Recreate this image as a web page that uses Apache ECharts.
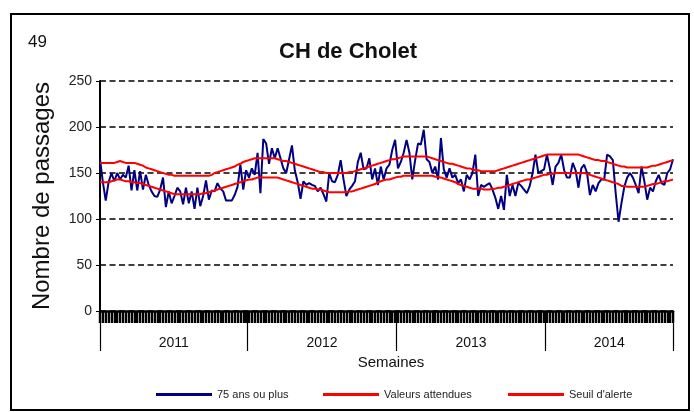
<!DOCTYPE html>
<html><head><meta charset="utf-8">
<script src="https://cdn.jsdelivr.net/npm/echarts@6/dist/echarts.min.js"></script>
<style>html,body{margin:0;padding:0;background:#fff}#c{width:694px;height:412px}</style>
</head><body><div id="c"></div>
<script>
// ---- data ----
const yearLabels = ['2011', '2012', '2013', '2014'];
const weeksPerYear = [52, 52, 52, 45];
const yearBounds = [0, 51.5, 103.5, 155.5, 200];   // week positions of year separators
const yTicks = [0, 50, 100, 150, 200, 250];

const passages75 = [
  165,140,120,140,150,141,150,143,148,145,158,131,153,131,152,132,148,137,130,125,
  124,132,145,113,130,117,125,134,130,116,134,117,130,111,134,114,125,142,121,131,
  130,139,133,130,120,120,120,126,135,159,132,153,
  145,155,148,172,128,187,182,160,177,166,177,166,155,150,165,180,153,140,122,141,
  137,139,137,136,130,134,127,119,150,141,140,148,164,143,125,132,136,141,162,172,
  154,155,166,143,155,137,157,143,155,159,175,186,
  155,162,172,186,172,143,164,182,181,197,165,162,150,157,143,188,154,145,155,145,
  148,139,143,130,148,143,150,170,125,137,135,137,139,132,123,111,125,110,148,125,
  137,125,139,136,132,128,136,150,170,150,152,154,
  170,155,137,157,161,170,153,145,145,161,153,134,155,159,150,126,137,130,139,143,
  143,170,168,164,128,97,117,135,145,150,145,137,128,157,141,121,134,130,141,148,
  139,137,150,154,165
];

const valeursAttendues = [
  140,140,140,140,141,142,143,143,142,141,141,140,140,139,139,138,137,136,135,134,
  133,132,131,130,129,128,127,127,127,127,127,127,127,127,127,127,128,128,129,130,
  131,132,133,134,135,136,137,138,139,140,141,142,
  143,143,144,145,145,145,145,145,145,145,145,144,143,142,141,140,139,138,137,136,
  135,134,133,133,132,132,131,130,129,129,129,129,129,129,129,130,130,131,132,133,
  134,135,136,137,138,140,141,142,143,143,144,145,
  146,146,147,147,147,147,147,147,147,147,147,147,147,146,146,145,144,143,142,141,
  140,138,137,136,135,134,133,133,133,133,132,132,132,133,133,134,134,135,136,137,
  138,139,140,141,142,143,143,144,145,146,147,148,
  148,149,149,150,150,150,150,150,150,150,150,150,150,150,149,148,147,146,145,144,
  143,142,141,140,139,138,136,136,135,135,135,135,135,135,135,136,137,138,138,139,
  140,141,141,142,143
];

const seuilAlerte = [
  161,161,161,161,161,161,162,163,162,161,161,161,161,160,159,158,156,155,154,153,
  152,151,150,149,148,148,147,147,147,147,147,147,147,147,147,147,147,147,147,148,
  150,151,152,153,154,155,156,157,159,160,162,163,
  164,165,166,166,166,166,166,166,166,166,165,164,163,163,162,161,160,159,158,157,
  156,155,154,153,152,151,151,150,150,150,150,150,150,150,150,151,151,152,153,154,
  155,156,157,158,159,160,161,162,163,164,165,165,
  166,167,168,168,168,168,168,168,168,168,168,167,166,165,164,163,162,161,160,160,
  159,158,157,156,155,155,154,153,153,152,152,152,152,152,152,153,154,155,156,157,
  158,159,160,161,162,163,164,165,166,167,168,169,
  170,170,170,170,170,170,170,170,170,170,170,170,169,168,167,166,165,164,164,163,
  163,162,161,160,159,158,157,157,156,156,156,156,156,156,156,156,157,158,158,159,
  160,161,162,163,164
];

// ---- build ----
const weekCategories = [];
yearLabels.forEach((y, i) => {
  for (let w = 1; w <= weeksPerYear[i]; w++) weekCategories.push(y + '-S' + w);
});
const yearMids = yearLabels.map((_, i) => (yearBounds[i] + yearBounds[i + 1]) / 2);

const FONT = '"Liberation Sans", Arial, sans-serif';
const chart = echarts.init(document.getElementById('c'), null, {renderer: 'canvas'});

const legendBase = {
  top: 389, padding: 0, icon: 'rect', itemWidth: 56, itemHeight: 3, itemGap: 5,
  textStyle: {fontSize: 11, color: '#222', fontFamily: FONT}
};

chart.setOption({
  animation: false,
  backgroundColor: '#fff',
  textStyle: {fontFamily: FONT},
  title: {
    text: 'CH de Cholet', left: 279, top: 41, padding: 0,
    textStyle: {fontSize: 22, fontWeight: 'bold', color: '#111', fontFamily: FONT}
  },
  graphic: [
    {type: 'rect', shape: {x: 11, y: 14, width: 678, height: 396},
     style: {fill: 'none', stroke: '#000', lineWidth: 2}, silent: true},
    {type: 'text', x: 28, y: 42,
     style: {text: '49', fontSize: 17, fill: '#111', fontFamily: FONT, verticalAlign: 'middle'}}
  ],
  grid: {left: 100, right: 21, top: 81, bottom: 101},
  legend: [
    Object.assign({}, legendBase, {left: 156, data: ['75 ans ou plus']}),
    Object.assign({}, legendBase, {left: 323, data: ['Valeurs attendues']}),
    Object.assign({}, legendBase, {left: 508, data: ["Seuil d'alerte"]})
  ],
  xAxis: [
    {
      type: 'category', data: weekCategories, boundaryGap: false,
      axisLine: {lineStyle: {color: '#000', width: 2.5}},
      axisTick: {show: true, interval: 0, length: 12, lineStyle: {color: '#000', width: 2.4}},
      axisLabel: {show: false},
      splitLine: {show: false}
    },
    {
      type: 'value', min: yearBounds[0], max: yearBounds[yearBounds.length - 1], position: 'bottom',
      axisLine: {show: false},
      axisTick: {show: true, customValues: yearBounds, length: 40, lineStyle: {color: '#000', width: 1.2}},
      axisLabel: {
        customValues: yearMids, margin: 25, fontSize: 14, color: '#111',
        formatter: v => {
          let best = 0;
          yearMids.forEach((m, i) => { if (Math.abs(m - v) < Math.abs(yearMids[best] - v)) best = i; });
          return yearLabels[best];
        }
      },
      splitLine: {show: false},
      name: 'Semaines', nameLocation: 'middle', nameGap: 43,
      nameTextStyle: {fontSize: 15, color: '#111', verticalAlign: 'top', padding: [0, 0, 0, 9]}
    }
  ],
  yAxis: {
    type: 'value', min: yTicks[0], max: yTicks[yTicks.length - 1], interval: 50,
    axisLine: {show: true, lineStyle: {color: '#000', width: 2}},
    axisTick: {show: true, length: 4, lineStyle: {color: '#000'}},
    axisLabel: {fontSize: 14, color: '#222', margin: 8},
    splitLine: {lineStyle: {type: [6, 3.5], color: '#000', width: 1.5}},
    name: 'Nombre de passages', nameLocation: 'middle', nameGap: 46,
    nameTextStyle: {fontSize: 24, color: '#111'}
  },
  series: [
    {name: '75 ans ou plus', type: 'line', data: passages75, symbol: 'none',
     lineStyle: {color: '#000080', width: 2}, itemStyle: {color: '#000080'}},
    {name: 'Valeurs attendues', type: 'line', data: valeursAttendues, symbol: 'none',
     lineStyle: {color: '#ff0000', width: 2}, itemStyle: {color: '#ff0000'}},
    {name: "Seuil d'alerte", type: 'line', data: seuilAlerte, symbol: 'none',
     lineStyle: {color: '#ff0000', width: 2}, itemStyle: {color: '#ff0000'}}
  ]
});
</script>
</body></html>
